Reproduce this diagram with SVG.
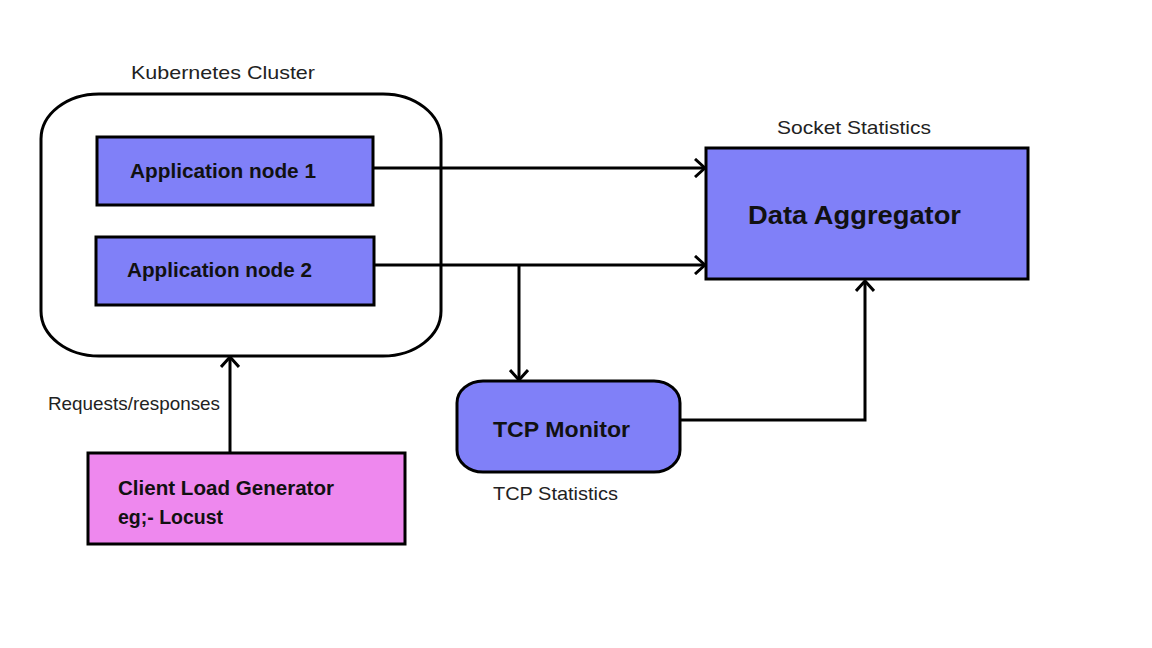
<svg xmlns="http://www.w3.org/2000/svg" width="1152" height="648" viewBox="0 0 1152 648">
<style>
.box{fill:#8080f8;stroke:#000;stroke-width:3}
.pink{fill:#ee88ee;stroke:#000;stroke-width:3}
.lbl{font-family:"Liberation Sans",Arial,sans-serif;font-weight:bold;fill:#111}
.cap{font-family:"Liberation Sans",Arial,sans-serif;font-size:19px;fill:#222}
.conn{fill:none;stroke:#000;stroke-width:3;marker-end:url(#arr)}
</style>
<defs>
<marker id="arr" viewBox="0 0 12 20" refX="11" refY="10" markerWidth="12" markerHeight="20" markerUnits="userSpaceOnUse" orient="auto">
<path d="M1,1 L11,10 L1,19" fill="none" stroke="#000" stroke-width="3"/>
</marker>
</defs>
<rect width="1152" height="648" fill="#fff"/>
<g id="cluster">
<rect x="41" y="94" width="400" height="262" rx="58" ry="45" fill="#fff" stroke="#000" stroke-width="3"/>
<text class="cap" x="131" y="79" textLength="184" lengthAdjust="spacingAndGlyphs" font-size="20">Kubernetes Cluster</text>
</g>
<g id="app1">
<rect class="box" x="97" y="137" width="276" height="68"/>
<text class="lbl" x="130" y="178" font-size="20" textLength="186" lengthAdjust="spacingAndGlyphs">Application node 1</text>
</g>
<g id="app2">
<rect class="box" x="96" y="237" width="278" height="68"/>
<text class="lbl" x="127" y="277" font-size="20" textLength="185" lengthAdjust="spacingAndGlyphs">Application node 2</text>
</g>
<g id="aggregator">
<rect class="box" x="706" y="148" width="322" height="131"/>
<text class="lbl" x="748" y="224" font-size="25" textLength="213" lengthAdjust="spacingAndGlyphs">Data Aggregator</text>
<text class="cap" x="777" y="134" textLength="154" lengthAdjust="spacingAndGlyphs">Socket Statistics</text>
</g>
<g id="tcpmonitor">
<rect class="box" x="457" y="381" width="223" height="91" rx="26" ry="22"/>
<text class="lbl" x="493" y="437" font-size="22" textLength="137" lengthAdjust="spacingAndGlyphs">TCP Monitor</text>
<text class="cap" x="493" y="500" textLength="125" lengthAdjust="spacingAndGlyphs">TCP Statistics</text>
</g>
<g id="client">
<rect class="pink" x="88" y="453" width="317" height="91"/>
<text class="lbl" x="118" y="495" font-size="20" textLength="216" lengthAdjust="spacingAndGlyphs">Client Load Generator</text>
<text class="lbl" x="118" y="524" font-size="20" textLength="105" lengthAdjust="spacingAndGlyphs">eg;- Locust</text>
</g>
<g id="connectors">
<path class="conn" d="M373,168 H705"/>
<path class="conn" d="M374,265 H705"/>
<path class="conn" d="M519,265 V380"/>
<path class="conn" d="M680,420 H865 V281"/>
<path class="conn" d="M230,452 V357"/>
<text class="cap" x="48" y="410" textLength="172" lengthAdjust="spacingAndGlyphs">Requests/responses</text>
</g>
</svg>
